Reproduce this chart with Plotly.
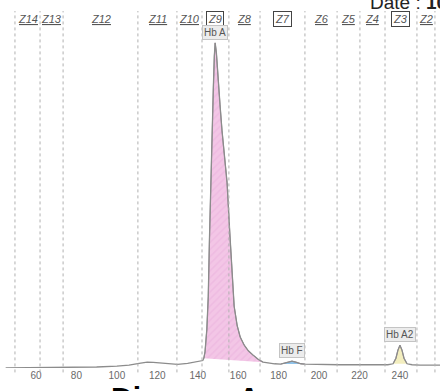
import numpy as np
import plotly.graph_objects as go

# Capillary electrophoresis trace (migration position vs. relative absorbance)
retention = [45, 60, 80, 90, 100, 106, 111, 115, 118, 122, 126, 130, 135, 140, 142.5,
             143.0, 143.6, 144.5, 145.2, 145.8, 146.3, 147.0, 147.7, 148.2, 148.6,
             149.2, 150.0, 151.0, 152.0, 153.2, 154.5, 155.8, 157.0, 158.0, 159.5,
             161.0, 163.0, 165.0, 167.3, 170.0, 172.3, 175.0, 178.0, 181.0, 183.0,
             185.0, 186.6, 188.5, 191.0, 193.0, 197.0, 200.5, 210.0, 220.0, 230.0,
             234.0, 236.6, 238.0, 239.0, 240.0, 241.0, 242.0, 243.5, 246.0, 250.0, 260.0]
absorbance = [0.0, 0.1, 0.2, 0.3, 0.6, 0.9, 1.4, 1.8, 1.7, 1.5, 1.3, 1.1, 1.4, 2.0, 2.3,
              3.0, 5.0, 12.0, 22.0, 40.0, 55.0, 70.0, 86.0, 96.0, 100.0,
              97.0, 89.0, 81.0, 73.0, 65.0, 57.0, 42.0, 27.0, 19.0, 13.0,
              9.5, 7.0, 5.3, 4.0, 2.6, 1.8, 1.5, 1.3, 1.2, 1.5,
              1.9, 2.1, 1.8, 1.3, 1.2, 1.1, 1.1, 1.0, 1.0, 1.0,
              1.0, 1.3, 3.0, 5.5, 7.0, 5.5, 3.0, 1.3, 1.0, 0.9, 0.9]

# Zone boundaries along the migration axis
zone_edges = [49.6, 62.0, 73.4, 110.4, 129.7, 142.1, 155.4, 170.8, 193.0,
              208.9, 220.2, 232.6, 248.4, 257.3]
zone_names = ["Z14", "Z13", "Z12", "Z11", "Z10", "Z9", "Z8", "Z7", "Z6",
              "Z5", "Z4", "Z3", "Z2"]
boxed_zones = ["Z9", "Z7", "Z3"]

# Identified fractions: name, start, end, fill colour
fractions = [
    ("Hb A", 143.0, 172.3, "#f3c6e6"),
    ("Hb F", 181.0, 193.0, "#8fc3ea"),
    ("Hb A2", 236.6, 243.5, "#f3eebf"),
]

tick_vals = [60, 80, 100, 120, 140, 160, 180, 200, 220, 240, 260]

x = np.array(retention)
y = np.array(absorbance)

fig = go.Figure()

for name, lo, hi, color in fractions:
    m = (x >= lo) & (x <= hi)
    kw = dict(x=x[m], y=y[m], mode="lines", fill="toself", fillcolor=color,
              line=dict(color="#9a8a98", width=1), hoverinfo="skip", showlegend=False)
    if name == "Hb A":
        kw["fillpattern"] = dict(shape="/", bgcolor=color, fgcolor="#eab0dc",
                                 size=5, solidity=0.3)
    fig.add_trace(go.Scatter(**kw))

fig.add_trace(go.Scatter(x=x, y=y, mode="lines",
                         line=dict(color="#8c8c8c", width=1.3),
                         showlegend=False, hoverinfo="skip"))

# Dotted zone separators
for e in zone_edges:
    fig.add_shape(type="line", xref="x", yref="paper", x0=e, x1=e,
                  y0=-0.012, y1=0.97, line=dict(color="#b0b0b0", width=1, dash="dot"))

annotations = []
for i, z in enumerate(zone_names):
    cx = (zone_edges[i] + zone_edges[i + 1]) / 2
    boxed = z in boxed_zones
    font = dict(family="Arial, Liberation Sans", size=11, color="#555555",
                style="italic")
    if not boxed:
        font["lineposition"] = "under"
    annotations.append(dict(
        x=cx, y=0.948, xref="x", yref="paper", text=z, showarrow=False,
        font=font, xanchor="center", yanchor="middle",
        bordercolor="#444444" if boxed else "rgba(0,0,0,0)",
        borderwidth=1 if boxed else 0, borderpad=1,
        bgcolor="white" if boxed else "rgba(0,0,0,0)"))

# Fraction labels above their peaks
for name, lo, hi, color in fractions:
    m = (x >= lo) & (x <= hi)
    k = int(np.argmax(y[m]))
    annotations.append(dict(
        x=x[m][k], y=y[m][k], xref="x", yref="y", text=name, showarrow=False,
        xanchor="center", yanchor="bottom", yshift=3,
        font=dict(family="Arial, Liberation Sans", size=10, color="#555555"),
        bgcolor="#ececec", bordercolor="#c4c4c4", borderwidth=1, borderpad=1))

annotations.append(dict(
    x=368 / 440, y=1 - 3 / 368, xref="paper", yref="paper", xanchor="left",
    yanchor="middle", text="Date : <b>10/</b>", showarrow=False,
    font=dict(family="Arial, Liberation Sans", size=19, color="#222222")))

annotations.append(dict(
    x=185 / 440, y=-0.03, xref="paper", yref="paper", xanchor="center", yanchor="top",
    text="<b>Diagram A</b>", showarrow=False,
    font=dict(family="Arial, Liberation Sans", size=30, color="#000000")))

fig.update_layout(
    width=440, height=391,
    margin=dict(l=0, r=0, t=0, b=23),
    paper_bgcolor="white", plot_bgcolor="white",
    annotations=annotations,
    xaxis=dict(range=[42.2, 259.8], tickvals=tick_vals, showgrid=False,
               zeroline=False, showline=False, ticks="",
               tickfont=dict(family="Arial, Liberation Sans", size=10, color="#6a6a6a")),
    yaxis=dict(range=[0, 113.2], visible=False),
)

fig.write_html("out.html")
